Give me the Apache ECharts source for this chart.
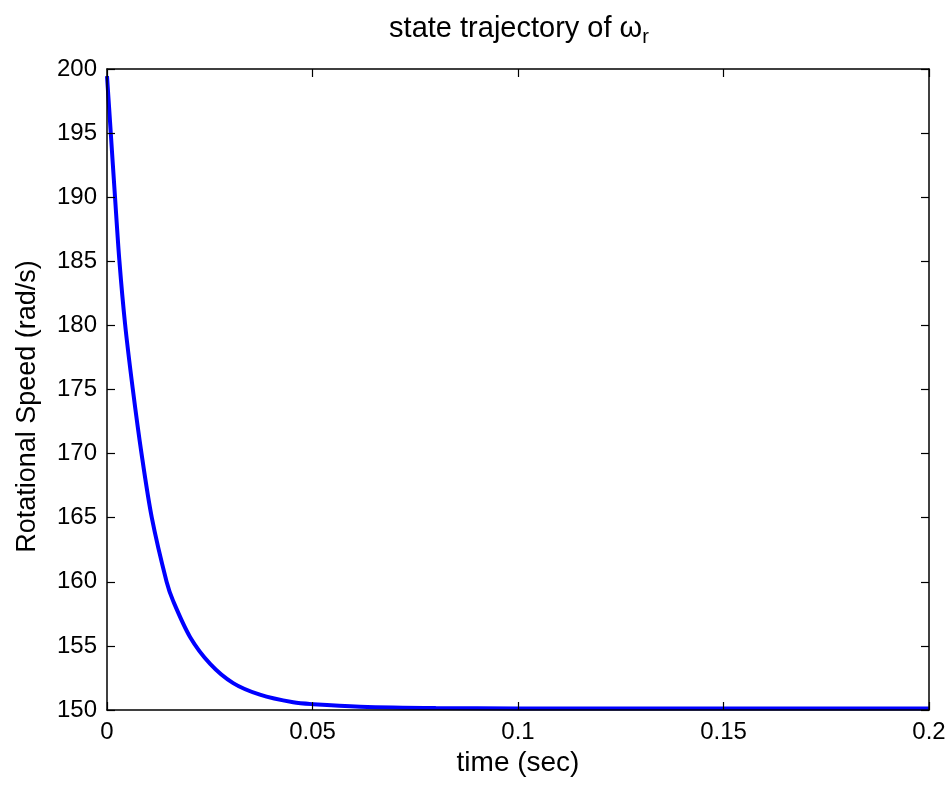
<!DOCTYPE html>
<html><head><meta charset="utf-8">
<script src="https://cdn.jsdelivr.net/npm/echarts@6/dist/echarts.min.js"></script>
<style>html,body{margin:0;padding:0;background:#fff}#c{width:951px;height:785px}</style>
</head><body><div id="c"></div>
<script>
const timeValues = [0, 0.0009, 0.00195, 0.003, 0.0044, 0.00625, 0.0084, 0.0109, 0.0145, 0.0161, 0.0202, 0.0251, 0.0307, 0.0372, 0.0453, 0.0502, 0.0616, 0.08, 0.1, 0.15, 0.2];
const speedValues = [199.45, 195.1, 190.0, 185.1, 180.1, 175.1, 170.0, 165.0, 160.0, 158.5, 155.7, 153.6, 152.1, 151.2, 150.6, 150.45, 150.26, 150.15, 150.12, 150.12, 150.12];
const xTicks = [0, 0.05, 0.1, 0.15, 0.2];
const yTicks = [150, 155, 160, 165, 170, 175, 180, 185, 190, 195, 200];

const chart = echarts.init(document.getElementById('c'), null, {renderer: 'canvas'});
const font = 'Liberation Sans, Arial, sans-serif';
const lineStyle = {color: '#000', width: 1.5};
const tick = {show: true, inside: true, length: 8, lineStyle: {color: '#000', width: 1.2}};
chart.setOption({
  animation: false,
  backgroundColor: '#fff',
  title: {
    text: 'state trajectory of {w|ω}{s|r}',
    left: 514, top: 6, textAlign: 'center',
    textStyle: {
      fontFamily: font, fontSize: 29, fontWeight: 'normal', color: '#000',
      rich: {
        w: {fontFamily: font, fontSize: 29, color: '#000'},
        s: {fontFamily: font, fontSize: 20, color: '#000', verticalAlign: 'bottom', padding: [16, 0, 0, 0]}
      }
    }
  },
  grid: {left: 107, right: 22, top: 69, bottom: 75},
  xAxis: [{
    type: 'value', min: xTicks[0], max: xTicks[xTicks.length - 1], interval: 0.05, z: 5,
    name: 'time (sec)', nameLocation: 'middle', nameGap: 38,
    nameTextStyle: {fontFamily: font, fontSize: 28, color: '#000'},
    axisLine: {lineStyle}, axisTick: tick,
    axisLabel: {fontFamily: font, fontSize: 24, color: '#000', margin: 10,
      formatter: v => String(+v.toFixed(2))},
    splitLine: {show: false}
  }, {
    type: 'value', position: 'top', min: xTicks[0], max: xTicks[xTicks.length - 1], interval: 0.05, z: 5,
    axisLine: {show: true, lineStyle}, axisTick: tick,
    axisLabel: {show: false}, splitLine: {show: false}
  }],
  yAxis: [{
    type: 'value', min: yTicks[0], max: yTicks[yTicks.length - 1], interval: 5, z: 5,
    name: 'Rotational Speed (rad/s)', nameLocation: 'middle', nameGap: 66,
    nameTextStyle: {fontFamily: font, fontSize: 27, color: '#000', padding: [0, 34, 0, 0]},
    axisLine: {lineStyle}, axisTick: tick,
    axisLabel: {fontFamily: font, fontSize: 24, color: '#000', margin: 10},
    splitLine: {show: false}
  }, {
    type: 'value', position: 'right', min: yTicks[0], max: yTicks[yTicks.length - 1], interval: 5, z: 5,
    axisLine: {show: true, onZero: false, lineStyle}, axisTick: tick,
    axisLabel: {show: false}, splitLine: {show: false}
  }],
  series: [{
    type: 'line', xAxisIndex: 0, yAxisIndex: 0,
    data: timeValues.map((t, i) => [t, speedValues[i]]),
    smooth: 0.3, showSymbol: false,
    lineStyle: {color: '#0000ff', width: 4},
    z: 1
  }, {
    type: 'line', xAxisIndex: 1, yAxisIndex: 1,
    data: [], silent: true
  }]
});
</script></body></html>
